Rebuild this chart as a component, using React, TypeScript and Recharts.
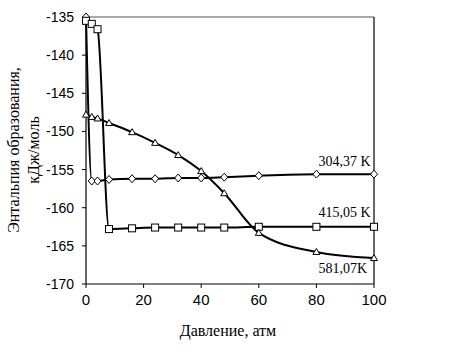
import React from 'react';
import { LineChart, Line, XAxis, YAxis, ReferenceLine, LabelList, Label } from 'recharts';

// Pressure, atm (shared by all series)
const pressureAtm = [0, 2, 4, 8, 16, 24, 32, 40, 48, 60, 80, 100];

// Enthalpy of formation, kJ/mol
const enthalpy304 = [-135, -156.5, -156.5, -156.3, -156.2, -156.2, -156.1, -156.1, -156.0, -155.8, -155.6, -155.6];
const enthalpy415 = [-135.5, -135.9, -136.6, -162.8, -162.7, -162.6, -162.6, -162.6, -162.6, -162.5, -162.5, -162.5];
const enthalpy581 = [-147.8, -148.1, -148.3, -148.9, -150.1, -151.5, -153.1, -155.2, -158.1, -163.3, -165.8, -166.6];

const seriesNames = ['304,37 K', '415,05 K', '581,07K'];

const xTicks = [0, 20, 40, 60, 80, 100];
const yTicks = [-170, -165, -160, -155, -150, -145, -140, -135];

const xTitle = 'Давление, атм';
const yTitleLine1 = 'Энтальпия образования,';
const yTitleLine2 = 'кДж/моль';

const labelAtPressure = 80;

const toData = (vals: number[]) => pressureAtm.map((x, i) => ({ x, y: vals[i] }));

const serif = '"Liberation Serif", "Times New Roman", serif';
const sans = '"Liberation Sans", Arial, sans-serif';

const diamondDot = (p: any) => {
  const { cx, cy, index } = p;
  return (
    <path key={`d${index}`} d={`M${cx},${cy - 4}L${cx + 3.5},${cy}L${cx},${cy + 4}L${cx - 3.5},${cy}Z`} fill="#fff" stroke="#000" strokeWidth={1} />
  );
};
const squareDot = (p: any) => {
  const { cx, cy, index } = p;
  return <rect key={`s${index}`} x={cx - 3.5} y={cy - 3.5} width={7} height={7} fill="#fff" stroke="#000" strokeWidth={1} />;
};
const triangleDot = (p: any) => {
  const { cx, cy, index } = p;
  return (
    <path key={`t${index}`} d={`M${cx},${cy - 3.5}L${cx + 3.5},${cy + 2.5}L${cx - 3.5},${cy + 2.5}Z`} fill="#fff" stroke="#000" strokeWidth={1} />
  );
};

const makeLabel = (text: string, dx: number, dy: number) => (p: any) => {
  const { x, y, index } = p;
  if (pressureAtm[index] !== labelAtPressure) return null;
  return (
    <text key={`l${text}`} x={x + dx} y={y + dy} fontFamily={serif} fontSize={14} fill="#000">
      {text}
    </text>
  );
};

const series = [
  { vals: enthalpy304, dot: diamondDot, name: seriesNames[0], dx: 2, dy: -8 },
  { vals: enthalpy415, dot: squareDot, name: seriesNames[1], dx: 2, dy: -10 },
  { vals: enthalpy581, dot: triangleDot, name: seriesNames[2], dx: 2, dy: 21 },
];

const YTitle = () => (
  <g>
    <text transform="translate(19,150) rotate(-90)" textAnchor="middle" fontFamily={serif} fontSize={16} fill="#000">
      {yTitleLine1}
    </text>
    <text transform="translate(39,150) rotate(-90)" textAnchor="middle" fontFamily={serif} fontSize={16} fill="#000">
      {yTitleLine2}
    </text>
  </g>
);

const XTitle = () => (
  <text x={228} y={336} textAnchor="middle" fontFamily={serif} fontSize={16} fill="#000">
    {xTitle}
  </text>
);

export default function App() {
  return (
    <div style={{ position: 'absolute', left: 0, top: 0, background: '#fff' }}>
      <LineChart width={472} height={354} margin={{ top: 17, right: 98, bottom: 40, left: 26 }}>
        <XAxis
          type="number"
          dataKey="x"
          domain={[0, 100]}
          ticks={xTicks}
          axisLine={{ stroke: '#000', strokeWidth: 1.2 }}
          tickLine={{ stroke: '#000' }}
          tickSize={4}
          tickMargin={6}
          height={30}
          tick={{ fill: '#000', fontFamily: sans, fontSize: 15 }}
          allowDuplicatedCategory={false}
        >
          <Label content={() => <XTitle />} />
        </XAxis>
        <YAxis
          type="number"
          domain={[-170, -135]}
          ticks={yTicks}
          width={60}
          axisLine={{ stroke: '#000', strokeWidth: 1.2 }}
          tickLine={{ stroke: '#000' }}
          tickSize={4}
          tickMargin={8}
          tick={{ fill: '#000', fontFamily: sans, fontSize: 14 }}
        >
          <Label content={() => <YTitle />} />
        </YAxis>
        <ReferenceLine y={-135} stroke="#555" strokeWidth={1.2} />
        <ReferenceLine x={100} stroke="#000" strokeWidth={1.2} />
        {series.map((s) => (
          <Line
            key={s.name}
            data={toData(s.vals)}
            dataKey="y"
            type="monotone"
            stroke="#000"
            strokeWidth={2}
            dot={s.dot}
            activeDot={false}
            isAnimationActive={false}
          >
            <LabelList dataKey="y" content={makeLabel(s.name, s.dx, s.dy)} />
          </Line>
        ))}
      </LineChart>
    </div>
  );
}
